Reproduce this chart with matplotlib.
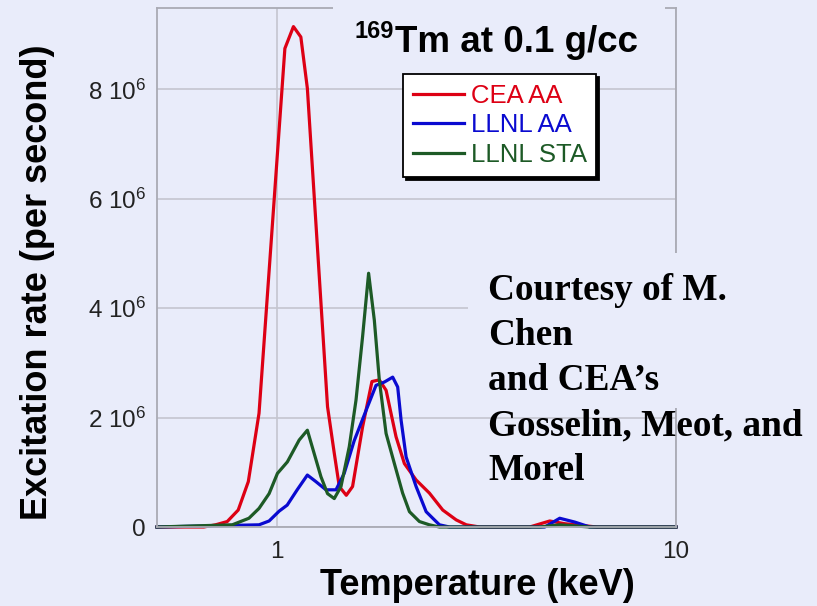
import numpy as np
import matplotlib
matplotlib.use("Agg")
import matplotlib.pyplot as plt
from matplotlib.patches import Rectangle
from matplotlib.ticker import NullLocator

plt.rcParams['font.family'] = ['Liberation Sans', 'DejaVu Sans']
plt.rcParams['mathtext.fontset'] = 'custom'
plt.rcParams['mathtext.rm'] = 'Liberation Sans'
plt.rcParams['mathtext.it'] = 'Liberation Sans:italic'
plt.rcParams['mathtext.bf'] = 'Liberation Sans:bold'

# data: temperature (keV), excitation rate (in units of 1e6 / s)
cea_T = [0.5, 0.655, 0.701, 0.750, 0.799, 0.847, 0.901, 1.046, 1.099, 1.147, 1.191,
         1.338, 1.391, 1.432, 1.491, 1.546, 1.638, 1.729, 1.804, 1.876, 1.987, 2.085,
         2.231, 2.409, 2.602, 2.812, 2.980, 3.218, 4.297, 4.825, 5.262, 6.330, 10.0]
cea_R = [0, 0, 0.04, 0.10, 0.31, 0.83, 2.08, 8.75, 9.15, 8.96, 8.02,
         2.20, 1.35, 0.74, 0.58, 0.74, 1.83, 2.66, 2.69, 2.50, 1.65, 1.16,
         0.86, 0.62, 0.31, 0.13, 0.04, 0, 0, 0.11, 0.06, 0, 0]

llnl_aa_T = [0.5, 0.901, 0.955, 1.012, 1.060, 1.123, 1.191, 1.251, 1.326, 1.405,
             1.473, 1.561, 1.671, 1.770, 1.857, 1.949, 2.006, 2.046, 2.106, 2.231,
             2.364, 2.456, 2.553, 2.705, 4.688, 5.111, 5.575, 6.079, 10.0]
llnl_aa_R = [0, 0.04, 0.11, 0.29, 0.40, 0.68, 0.95, 0.83, 0.68, 0.68,
             0.98, 1.58, 2.13, 2.59, 2.65, 2.74, 2.56, 1.95, 1.28, 0.74,
             0.28, 0.16, 0.04, 0, 0, 0.16, 0.09, 0, 0]

llnl_sta_T = [0.5, 0.772, 0.850, 0.901, 0.955, 1.002, 1.061, 1.136, 1.191, 1.288,
              1.338, 1.391, 1.446, 1.517, 1.577, 1.638, 1.696, 1.753, 1.804, 1.876,
              1.968, 2.064, 2.147, 2.274, 2.409, 2.553, 4.553, 5.111, 6.079, 10.0]
llnl_sta_R = [0, 0.04, 0.16, 0.34, 0.61, 0.98, 1.19, 1.59, 1.77, 0.92,
              0.61, 0.52, 0.74, 1.47, 2.32, 3.48, 4.64, 3.78, 2.69, 1.71,
              1.16, 0.62, 0.28, 0.10, 0.04, 0, 0, 0.04, 0, 0]

series_names = ['CEA AA', 'LLNL AA', 'LLNL STA']
series_colors = ['#dd0014', '#0a0ad0', '#1d5a26']

y_ticks = [0, 2e6, 4e6, 6e6, 8e6]
y_labels = ['0', '2 10$^{6}$', '4 10$^{6}$', '6 10$^{6}$', '8 10$^{6}$']
x_ticks = [1, 10]
x_labels = ['1', '10']

BG = '#e9ecfa'
GRID = '#c4c5cf'
W, H = 817, 606

def fx(px):
    return px / W

def fy(py):
    return 1 - py / H

fig = plt.figure(figsize=(W / 100, H / 100), dpi=100)
fig.patch.set_facecolor(BG)
ax = fig.add_axes([fx(157), fy(527), (676 - 157) / W, (527 - 8) / H])
ax.set_facecolor(BG)

curves = [(cea_T, cea_R), (llnl_aa_T, llnl_aa_R), (llnl_sta_T, llnl_sta_R)]
for (T, R), name, c in zip(curves, series_names, series_colors):
    ax.plot(T, np.array(R) * 1e6, color=c, lw=2.3, label=name, clip_on=False,
            solid_joinstyle='round')

ax.set_xscale('log')
ax.set_xlim(0.5, 10)
ax.set_ylim(0, 9.49e6)
ax.set_xticks(x_ticks)
ax.set_xticklabels(x_labels)
ax.xaxis.set_minor_locator(NullLocator())
ax.set_yticks(y_ticks)
ax.set_yticklabels(y_labels)
ax.tick_params(length=0, labelsize=17.5, colors='#222222')
ax.tick_params(axis='x', pad=10)
ax.tick_params(axis='y', pad=8)
ax.grid(True, color=GRID, lw=1.2)
ax.set_axisbelow(True)
for s in ax.spines.values():
    s.set_color('#a9aab4')
    s.set_linewidth(1.3)

# axis labels
fig.text(fx(477), fy(595), 'Temperature (keV)', fontsize=26, fontweight='bold',
         ha='center', va='baseline')
fig.text(fx(38), fy(282), 'Excitation rate (per second)', fontsize=26,
         fontweight='bold', rotation=90, ha='center', va='center')

# title with its background box hiding the top spine
fig.add_artist(Rectangle((fx(333), fy(62)), (665 - 333) / W, 62 / H,
                         transform=fig.transFigure, facecolor=BG,
                         edgecolor='none', zorder=5))
fig.text(fx(355), fy(38), '169', fontsize=17, fontweight='bold', va='baseline',
         zorder=6)
fig.text(fx(395), fy(52), 'Tm at 0.1 g/cc', fontsize=26.5, fontweight='bold',
         va='baseline', zorder=6)

leg = ax.legend(loc='upper left', bbox_to_anchor=(fx(403), fy(74)),
                bbox_transform=fig.transFigure, fontsize=18.5, frameon=True,
                fancybox=False, framealpha=1, facecolor='white',
                edgecolor='black', shadow={'color': 'black', 'alpha': 1},
                borderpad=0.38, labelspacing=0.22, handlelength=2.0,
                handletextpad=0.25, borderaxespad=0)
leg.get_frame().set_linewidth(1.3)
for txt, c in zip(leg.get_texts(), series_colors):
    txt.set_color(c)

# credit text, top part sits on its own box
fig.add_artist(Rectangle((fx(468), fy(408)), (W - 468) / W, (408 - 253) / H,
                         transform=fig.transFigure, facecolor=BG,
                         edgecolor='none', zorder=5))
credit_lines = ['Courtesy of M.', 'Chen', 'and CEA\u2019s',
                'Gosselin, Meot, and', 'Morel']
for i, line in enumerate(credit_lines):
    fig.text(fx(488), fy(300 + 45 * i), line, family='Liberation Serif',
             fontsize=26.8, fontweight='bold', va='baseline', zorder=6)

fig.savefig('out.png', dpi=100, facecolor=BG)
